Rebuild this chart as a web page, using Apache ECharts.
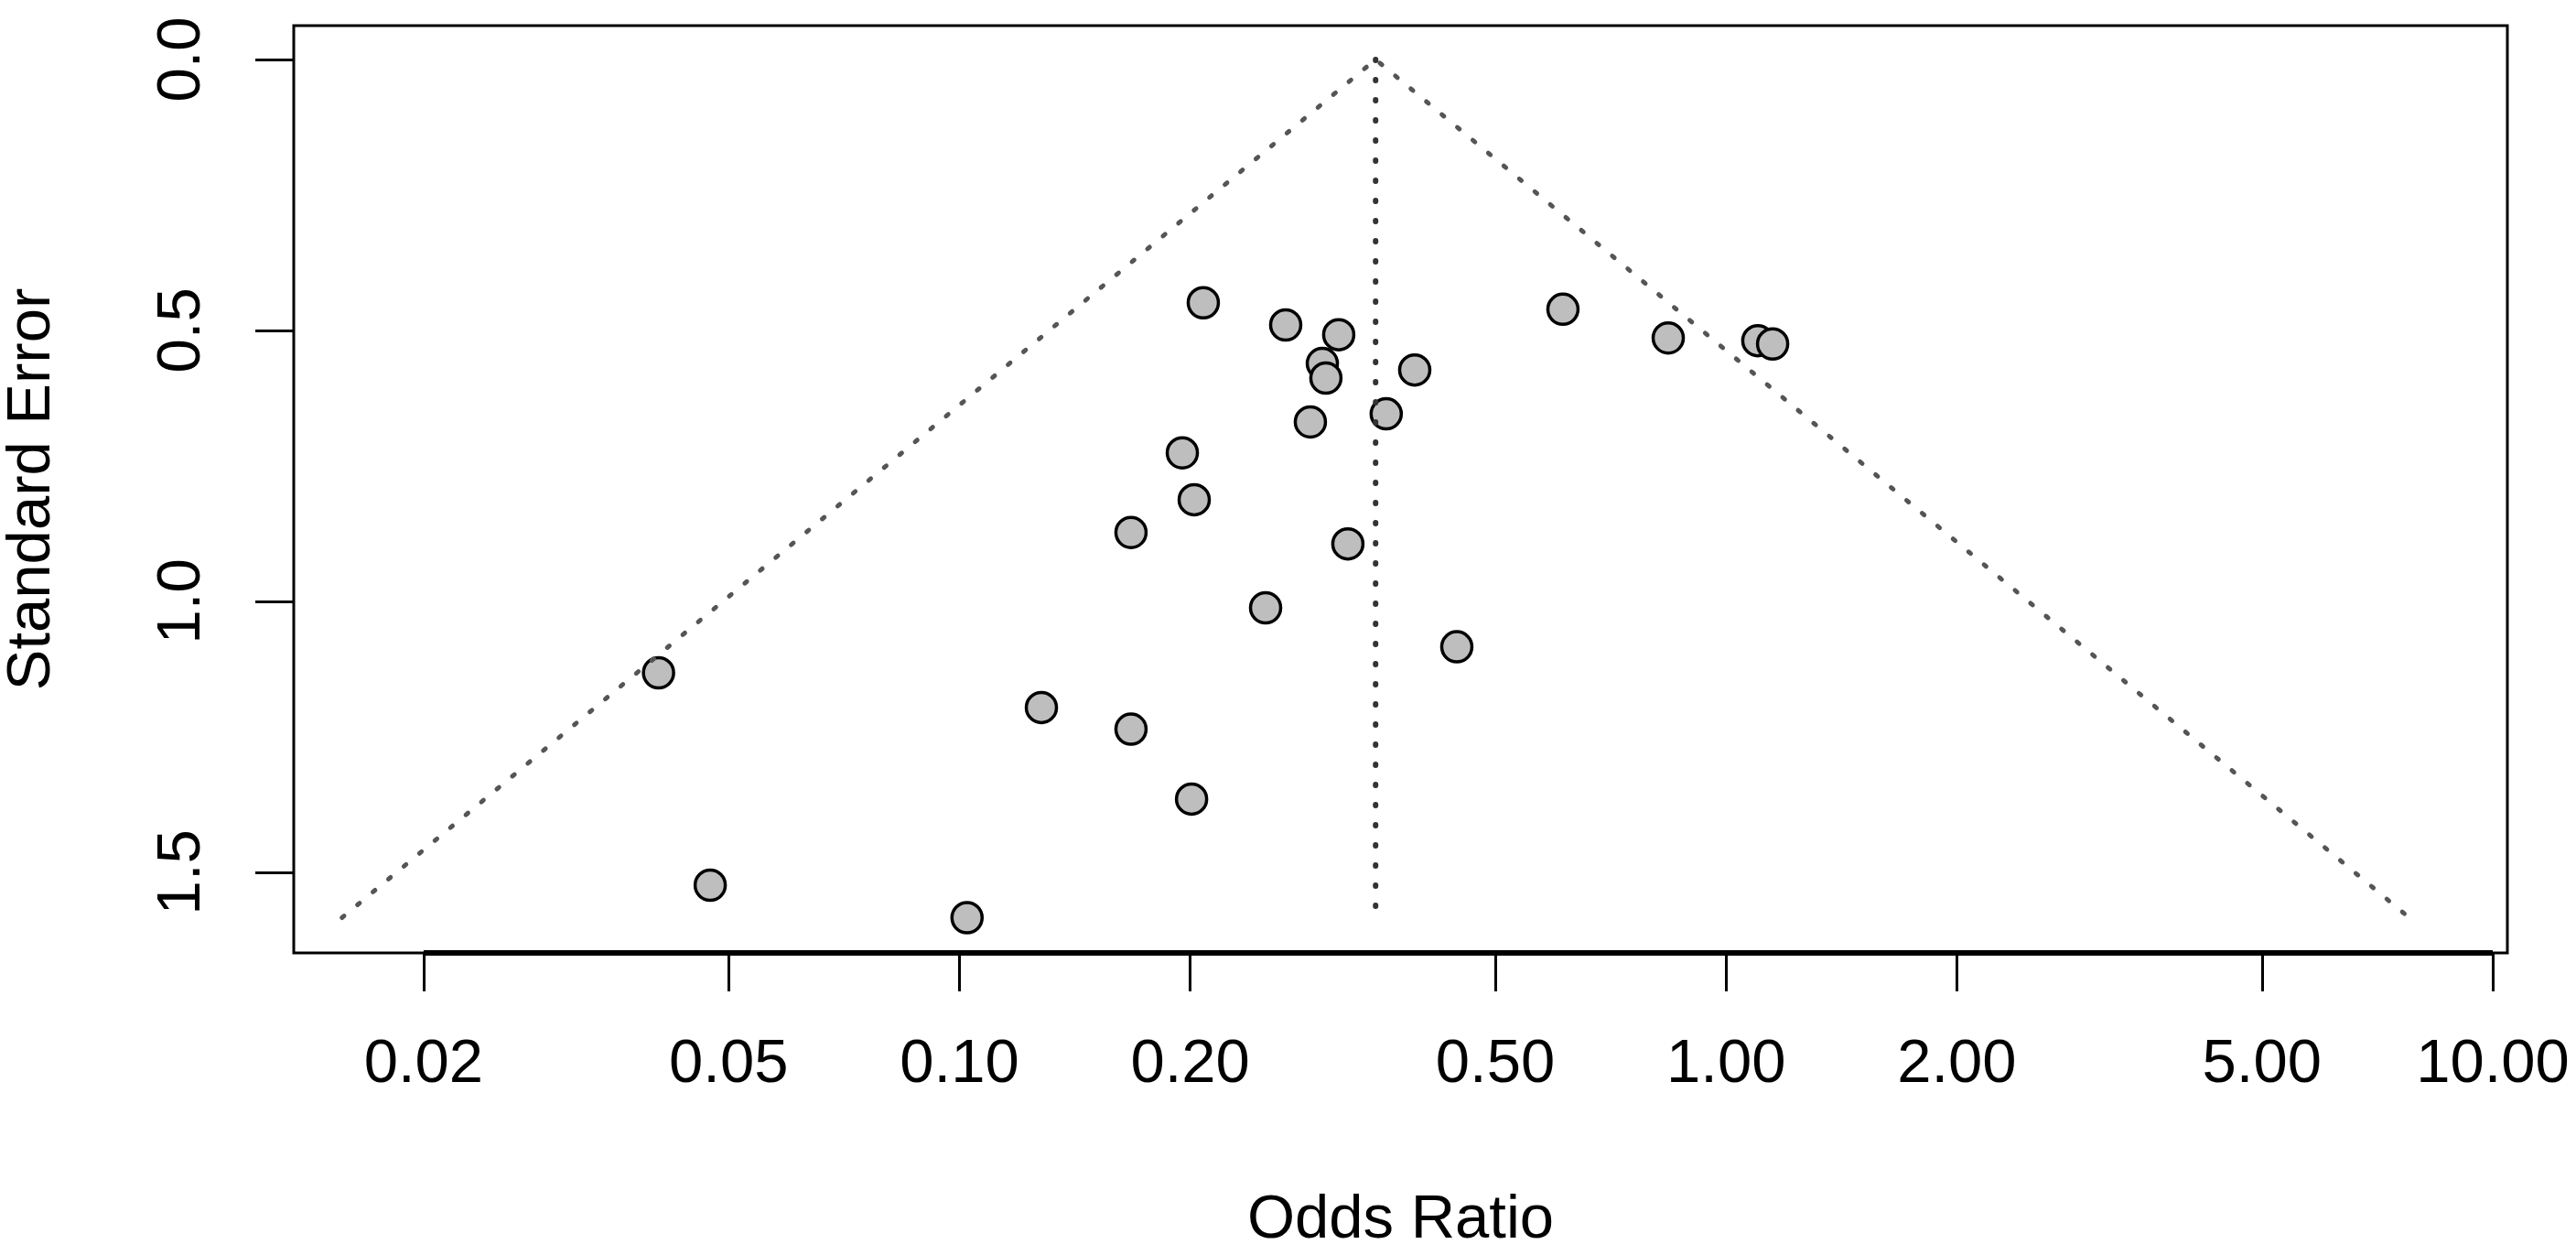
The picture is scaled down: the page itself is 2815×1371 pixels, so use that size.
<!DOCTYPE html>
<html>
<head>
<meta charset="utf-8">
<title>Funnel plot</title>
<script src="https://cdn.jsdelivr.net/npm/echarts@6.0.0/dist/echarts.min.js"></script>
<style>
    html, body { margin: 0; padding: 0; background: #fff; }
    #main { width: 2815px; height: 1371px; }
</style>
</head>
<body>
<div id="main"></div>
<script>
// study estimates
var oddsRatio = [0.0405, 0.0473, 0.1023, 0.1279, 0.1674, 0.1674, 0.1953, 0.2024,
                 0.2008, 0.2080, 0.2508, 0.2664, 0.2869, 0.2974, 0.3006, 0.3124,
                 0.3211, 0.3603, 0.3925, 0.4454, 0.6126, 0.8405, 1.100, 1.150];
var stdError  = [1.132, 1.524, 1.584, 1.196, 1.236, 0.873, 0.726, 0.8125,
                 1.365, 0.449, 1.012, 0.490, 0.669, 0.561, 0.588, 0.508,
                 0.894, 0.654, 0.573, 1.084, 0.461, 0.514, 0.519, 0.525];
var xTickValues = [0.02, 0.05, 0.10, 0.20, 0.50, 1.00, 2.00, 5.00, 10.00];
var yTickValues = [0.0, 0.5, 1.0, 1.5];
var pooledOR = 0.349;   // centre line
var seMax = 1.584;      // funnel depth
var xRange = [0.01354, 10.45];
var yRange = [-0.0625, 1.649];

var font = 'Liberation Sans, Arial, Helvetica, sans-serif';
var lg = function (v) { return Math.log10(v); };

var points = oddsRatio.map(function (or, i) { return [lg(or), stdError[i]]; });
var half = 1.96 * seMax / Math.LN10;
var c = lg(pooledOR);
var funnel = [[c - half, seMax], [c, 0], [c + half, seMax]];
var centre = [[c, 0], [c, seMax]];
var axisSeg = [[lg(xTickValues[0]), yRange[1]], [lg(xTickValues[xTickValues.length - 1]), yRange[1]]];

var myChart = echarts.init(document.getElementById('main'));
var option = {
    animation: false,
    backgroundColor: '#fff',
    grid: {
        left: 321, right: 75, top: 28, bottom: 330,
        show: true, borderColor: '#000', borderWidth: 3,
        outerBoundsMode: 'none'
    },
    xAxis: {
        type: 'value',
        min: lg(xRange[0]), max: lg(xRange[1]),
        name: 'Odds Ratio', nameLocation: 'middle', nameGap: 259,
        nameTextStyle: { fontFamily: font, fontSize: 67, color: '#000' },
        axisLine: { show: false, onZero: false },
        splitLine: { show: false },
        axisTick: {
            show: true, length: 42, customValues: xTickValues.map(lg),
            lineStyle: { color: '#000', width: 3 }
        },
        axisLabel: {
            margin: 89, fontFamily: font, fontSize: 67, color: '#000',
            customValues: xTickValues.map(lg),
            formatter: function (v) { return Math.pow(10, v).toFixed(2); }
        }
    },
    yAxis: {
        type: 'value', inverse: true,
        min: yRange[0], max: yRange[1],
        name: 'Standard Error', nameLocation: 'middle', nameGap: 252,
        nameTextStyle: { fontFamily: font, fontSize: 67, color: '#000' },
        axisLine: { show: false, onZero: false },
        splitLine: { show: false },
        axisTick: {
            show: true, length: 42, customValues: yTickValues,
            lineStyle: { color: '#000', width: 3 }
        },
        axisLabel: {
            margin: 88, rotate: 90, fontFamily: font, fontSize: 67, color: '#000',
            customValues: yTickValues,
            formatter: function (v) { return v.toFixed(1); }
        }
    },
    series: [
        {
            type: 'line', data: funnel, symbol: 'none', silent: true,
            lineStyle: { color: '#555', width: 5, type: [3, 19], cap: 'round' }
        },
        {
            type: 'line', data: centre, symbol: 'none', silent: true,
            lineStyle: { color: '#333', width: 6, type: [1, 21], cap: 'round' }
        },
        {
            type: 'line', data: axisSeg, symbol: 'none', silent: true, clip: false,
            lineStyle: { color: '#000', width: 6 }
        },
        {
            type: 'scatter', data: points, symbol: 'circle', symbolSize: 33, silent: true,
            itemStyle: { color: '#bebebe', borderColor: '#000', borderWidth: 3.5, opacity: 1 }
        }
    ]
};
myChart.setOption(option);
</script>
</body>
</html>
